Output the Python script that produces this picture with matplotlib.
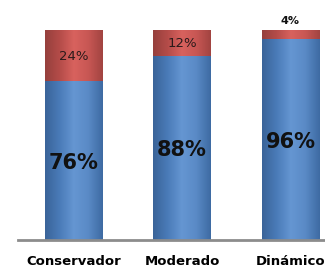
import matplotlib
matplotlib.use("Agg")
import matplotlib.pyplot as plt
import numpy as np
from matplotlib.colors import LinearSegmentedColormap

categories = ["Conservador", "Moderado", "Dinámico"]
blue_vals = [76, 88, 96]
red_vals = [24, 12, 4]
blue_labels = ["76%", "88%", "96%"]
red_labels = ["24%", "12%", "4%"]

fig = plt.figure(figsize=(3.25, 2.71), dpi=100)
W, H = 325, 271
ax = fig.add_axes([18 / W, (H - 240) / H, (W - 18) / W, 240 / H])

x = np.arange(len(categories))
width = 0.53

blue_cmap = LinearSegmentedColormap.from_list(
    "b", ["#3a6499", "#4a7bb8", "#6596d2", "#5a8ac6", "#3e6ba3"])
red_cmap = LinearSegmentedColormap.from_list(
    "r", ["#96403d", "#b44c49", "#d8625e", "#c85754", "#a24441"])
grad = np.linspace(0, 1, 100).reshape(1, -1)

for i in range(len(categories)):
    xl, xr = x[i] - width / 2, x[i] + width / 2
    b = blue_vals[i]
    r = red_vals[i]
    ax.bar(x[i], b, width, color="#4F81BD", zorder=1)
    ax.bar(x[i], r, width, bottom=b, color="#C0504D", zorder=1)
    ax.imshow(grad, extent=[xl, xr, 0, b], aspect="auto", cmap=blue_cmap, zorder=2)
    ax.imshow(grad, extent=[xl, xr, b, b + r], aspect="auto", cmap=red_cmap, zorder=2)
    ax.text(x[i], b / 2 - 1, blue_labels[i], ha="center", va="center",
            fontsize=15, fontweight="bold", color="#111111", zorder=3)
    if r >= 8:
        ax.text(x[i], b + r / 2, red_labels[i], ha="center", va="center",
                fontsize=9.5, color="#2a1a1a", zorder=3)
    else:
        ax.text(x[i], b + r + 2.5, red_labels[i], ha="center", va="bottom",
                fontsize=8, fontweight="bold", color="#111111", zorder=3)

ax.set_xlim(-0.514, 2.319)
ax.set_ylim(0, 114.8)
for s in ["top", "right", "left"]:
    ax.spines[s].set_visible(False)
ax.spines["bottom"].set_color("#8c8c8c")
ax.spines["bottom"].set_linewidth(2)
ax.set_yticks([])
ax.set_xticks(x)
ax.set_xticklabels(categories, fontsize=9.5, fontweight="bold")
ax.tick_params(axis="x", length=0, pad=11)

fig.savefig("out.png", dpi=100)
